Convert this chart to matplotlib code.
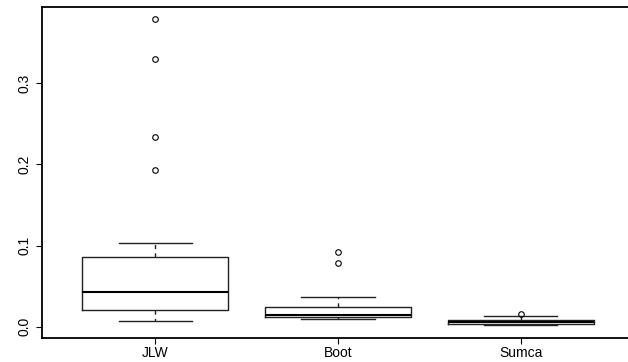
import matplotlib
matplotlib.use("Agg")
import matplotlib.pyplot as plt

plt.rcParams['font.family'] = ['Liberation Sans', 'DejaVu Sans']

labels = ['JLW', 'Boot', 'Sumca']
whislo = [0.0074, 0.0099, 0.0016]
q1 = [0.0206, 0.0123, 0.0037]
med = [0.0427, 0.0148, 0.0060]
q3 = [0.0855, 0.0246, 0.0080]
whishi = [0.1034, 0.0370, 0.0135]
fliers = [[0.379, 0.3297, 0.2336, 0.193], [0.092, 0.0785], [0.016]]

stats = []
for i in range(len(labels)):
    stats.append(dict(label=labels[i], whislo=whislo[i], q1=q1[i], med=med[i],
                      q3=q3[i], whishi=whishi[i], fliers=fliers[i]))

fig = plt.figure(figsize=(6.28, 3.62), dpi=100)
ax = fig.add_axes([42 / 628, 24 / 362, 592 / 628, 331 / 362])

lc = '#222222'
ax.bxp(stats, positions=[1, 2, 3], widths=0.8,
       boxprops=dict(color=lc, linewidth=1.0),
       medianprops=dict(color='black', linewidth=1.5),
       whiskerprops=dict(color=lc, linewidth=1.0, linestyle=(0, (3, 3))),
       capprops=dict(color=lc, linewidth=1.0),
       capwidths=0.4,
       flierprops=dict(marker='o', markersize=4, markerfacecolor='none',
                       markeredgecolor='black', markeredgewidth=0.8))

ax.set_xlim(0.38, 3.62)
ax.set_ylim(-0.0139, 0.3937)
ax.set_yticks([0.0, 0.1, 0.2, 0.3])
ax.set_yticklabels(['0.0', '0.1', '0.2', '0.3'], rotation=90, va='center')
ax.set_xticks([1, 2, 3])
ax.set_xticklabels(labels)
ax.tick_params(axis='both', length=4.5, width=0.8, labelsize=10, direction='out')
ax.tick_params(axis='x', pad=1.5)
ax.tick_params(axis='y', pad=3)
for s in ['left', 'bottom', 'top', 'right']:
    ax.spines[s].set_linewidth(1.3)

fig.savefig('out.png', dpi=100)
